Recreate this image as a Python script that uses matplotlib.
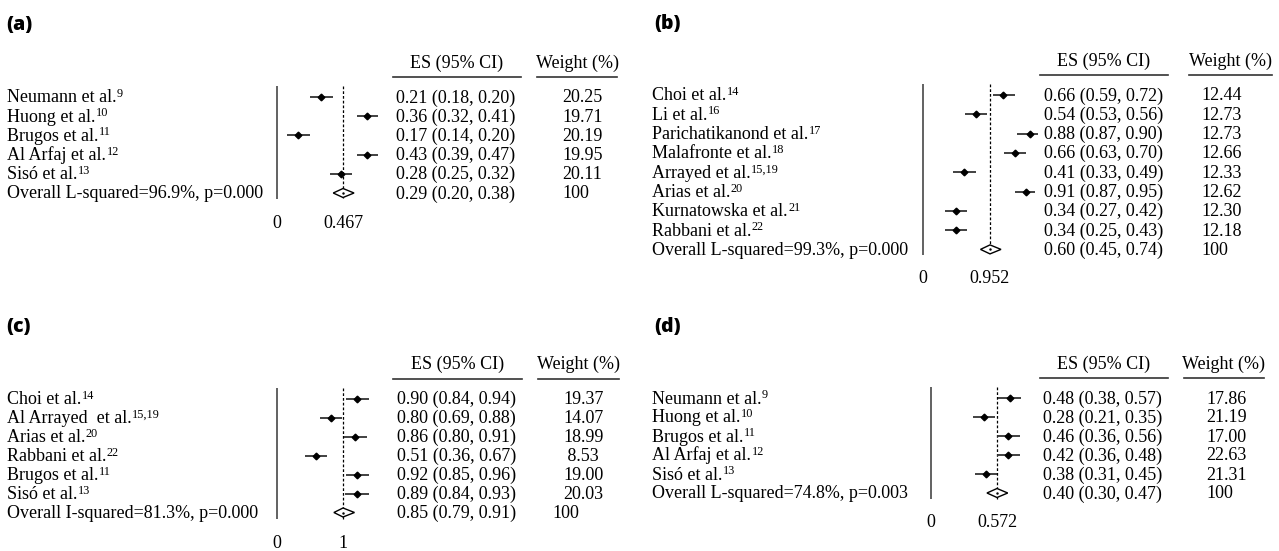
import matplotlib
matplotlib.use("Agg")
import matplotlib.pyplot as plt
from matplotlib.transforms import blended_transform_factory
from matplotlib.patches import Polygon
from matplotlib.lines import Line2D

plt.rcParams['font.family'] = ['Liberation Serif', 'DejaVu Serif']

W, H = 1279, 551
FS = 13

# ---------------- Panel (a) ----------------
a_names = ["Neumann et al.", "Huong et al.", "Brugos et al.", "Al Arfaj et al.", "Sisó et al."]
a_refs = ["9", "10", "11", "12", "13"]
a_es = [0.21, 0.36, 0.17, 0.43, 0.28]
a_lo = [0.18, 0.32, 0.14, 0.39, 0.25]
a_hi = [0.20, 0.41, 0.20, 0.47, 0.32]
a_w = [20.25, 19.71, 20.19, 19.95, 20.11]
a_overall_label = "Overall L-squared=96.9%, p=0.000"
a_overall = (0.29, 0.20, 0.38)
# plotted marker positions (axis units, as drawn)
a_pos = [0.311, 0.640, 0.152, 0.640, 0.456]
a_pos_lo = [0.237, 0.563, 0.074, 0.563, 0.378]
a_pos_hi = [0.393, 0.718, 0.230, 0.718, 0.534]
a_pool = (0.467, 0.398, 0.545)
a_ticks = [0, 0.467]
a_ticklabels = ["0", "0.467"]

# ---------------- Panel (b) ----------------
b_names = ["Choi et al.", "Li et al.", "Parichatikanond et al.", "Malafronte et al.",
           "Arrayed et al.", "Arias et al.", "Kurnatowska et al.", "Rabbani et al."]
b_refs = ["14", "16", "17", "18", "15,19", "20", "21", "22"]
b_es = [0.66, 0.54, 0.88, 0.66, 0.41, 0.91, 0.34, 0.34]
b_lo = [0.59, 0.53, 0.87, 0.63, 0.33, 0.87, 0.27, 0.25]
b_hi = [0.72, 0.56, 0.90, 0.70, 0.49, 0.95, 0.42, 0.43]
b_w = [12.44, 12.73, 12.73, 12.66, 12.33, 12.62, 12.30, 12.18]
b_overall_label = "Overall L-squared=99.3%, p=0.000"
b_overall = (0.60, 0.45, 0.74)
b_pos = [1.136, 0.747, 1.520, 1.303, 0.585, 1.460, 0.469, 0.469]
b_pos_lo = [0.994, 0.597, 1.342, 1.156, 0.430, 1.303, 0.313, 0.313]
b_pos_hi = [1.302, 0.909, 1.634, 1.460, 0.749, 1.591, 0.632, 0.632]
b_pool = (0.952, 0.817, 1.108)
b_ticks = [0, 0.952]
b_ticklabels = ["0", "0.952"]

# ---------------- Panel (c) ----------------
c_names = ["Choi et al.", "Al Arrayed  et al.", "Arias et al.", "Rabbani et al.",
           "Brugos et al.", "Sisó et al."]
c_refs = ["14", "15,19", "20", "22", "11", "13"]
c_es = [0.90, 0.80, 0.86, 0.51, 0.92, 0.89]
c_lo = [0.84, 0.69, 0.80, 0.36, 0.85, 0.84]
c_hi = [0.94, 0.88, 0.91, 0.67, 0.96, 0.93]
c_w = [19.37, 14.07, 18.99, 8.53, 19.00, 20.03]
c_overall_label = "Overall I-squared=81.3%, p=0.000"
c_overall = (0.85, 0.79, 0.91)
c_pos = [1.218, 0.812, 1.188, 0.591, 1.218, 1.206]
c_pos_lo = [1.050, 0.644, 1.018, 0.424, 1.050, 1.030]
c_pos_hi = [1.394, 0.980, 1.364, 0.762, 1.394, 1.394]
c_pool = (1.0, 0.862, 1.174)
c_ticks = [0, 1]
c_ticklabels = ["0", "1"]

# ---------------- Panel (d) ----------------
d_names = ["Neumann et al.", "Huong et al.", "Brugos et al.", "Al Arfaj et al.", "Sisó et al."]
d_refs = ["9", "10", "11", "12", "13"]
d_es = [0.48, 0.28, 0.46, 0.42, 0.38]
d_lo = [0.38, 0.21, 0.36, 0.36, 0.31]
d_hi = [0.57, 0.35, 0.56, 0.48, 0.45]
d_w = [17.86, 21.19, 17.00, 22.63, 21.31]
d_overall_label = "Overall L-squared=74.8%, p=0.003"
d_overall = (0.40, 0.30, 0.47)
d_pos = [0.681, 0.461, 0.670, 0.670, 0.474]
d_pos_lo = [0.583, 0.361, 0.576, 0.576, 0.378]
d_pos_hi = [0.783, 0.555, 0.770, 0.770, 0.572]
d_pool = (0.572, 0.485, 0.665)
d_ticks = [0, 0.572]
d_ticklabels = ["0", "0.572"]

fig = plt.figure(figsize=(W / 100, H / 100), dpi=100)


def fx(px):
    return px / W


def fy(py):
    return 1 - py / H


def panel(letter, letter_x, letter_y, names, refs, es, lo, hi, wts, ov_label, ov,
          pos, pos_lo, pos_hi, pool, ticks, ticklabels, g):
    n = len(names) + 1
    zero_px, tick_px = g['zero'], g['tick']
    ppu = (tick_px - zero_px) / ticks[1]
    step, row0 = g['step'], g['row0']
    left_px, right_px = zero_px - 20, tick_px + 75
    top_px, bot_px = row0 - step, row0 + n * step
    ax = fig.add_axes([fx(left_px), fy(bot_px), (right_px - left_px) / W, (bot_px - top_px) / H])
    ax.set_xlim((left_px - zero_px) / ppu, (right_px - zero_px) / ppu)
    ax.set_ylim(n, -1)
    ax.patch.set_visible(False)
    for s in ax.spines.values():
        s.set_visible(False)
    ax.set_yticks([])
    ax.set_xticks(ticks)
    ax.set_xticklabels(ticklabels, fontsize=FS)
    label_top = row0 + (n - 1) * step + g['tickdy'] - 9
    ax.tick_params(axis='x', length=0, pad=(label_top - bot_px) * 0.72)

    rows = list(range(n - 1))
    ov_row = n - 1
    top_d = -11 / step
    bot_d = ov_row + 6 / step
    ax.vlines(0, top_d, bot_d, color='#555555', lw=1.3)
    ax.vlines(pool[0], top_d, bot_d, color='black', lw=0.9, linestyles=(0, (2.2, 1.6)))
    ax.hlines(rows, pos_lo, pos_hi, color='#333333', lw=1.3)
    ax.plot(pos, rows, 'D', ms=3.4, color='black', mec='black')
    hh = 4.5 / step
    dia = Polygon([(pool[1], ov_row), (pool[0], ov_row - hh), (pool[2], ov_row), (pool[0], ov_row + hh)],
                  closed=True, facecolor='white', edgecolor='black', lw=1.0, zorder=3)
    ax.add_patch(dia)
    ax.plot([pool[0]], [ov_row], marker='.', ms=1.5, color='black', zorder=4)

    tr = blended_transform_factory(fig.transFigure, ax.transData)
    bl = 5.5 / step
    for i, (nm, rf) in enumerate(zip(names, refs)):
        t = ax.text(fx(g['lab']), i + bl, nm, transform=tr,
                    ha='left', va='baseline', fontsize=FS)
        ax.annotate(rf, xy=(1, 0), xycoords=t, xytext=(0.4, 6.8), textcoords='offset points',
                    ha='left', va='baseline', fontsize=8.8)
        ax.text(fx(g['esx']), i + bl, f"{es[i]:.2f} ({lo[i]:.2f}, {hi[i]:.2f})", transform=tr,
                ha='left', va='baseline', fontsize=FS)
        ax.text(fx(g['wx']), i + bl, f"{wts[i]:5.2f}", transform=tr,
                ha='left', va='baseline', fontsize=FS)
    ax.text(fx(g['lab']), ov_row + bl, ov_label, transform=tr, ha='left', va='baseline', fontsize=FS)
    ax.text(fx(g['esx']), ov_row + bl, f"{ov[0]:.2f} ({ov[1]:.2f}, {ov[2]:.2f})", transform=tr,
            ha='left', va='baseline', fontsize=FS)
    ax.text(fx(g['wx'] + g.get('w100', 0)), ov_row + bl, "100", transform=tr, ha='left', va='baseline', fontsize=FS)

    # headers and underlines
    e0, e1 = g['esline']
    w0, w1 = g['wline']
    hy = row0 - 34
    uy = row0 - 20
    fig.text(fx((e0 + e1) / 2), fy(hy), "ES (95% CI)", ha='center', va='center', fontsize=FS)
    fig.text(fx((w0 + w1) / 2), fy(hy), "Weight (%)", ha='center', va='center', fontsize=FS)
    fig.add_artist(Line2D([fx(e0), fx(e1)], [fy(uy), fy(uy)], color='#333333', lw=1.2))
    fig.add_artist(Line2D([fx(w0), fx(w1)], [fy(uy), fy(uy)], color='#333333', lw=1.2))

    fig.text(fx(letter_x), fy(letter_y), letter, ha='left', va='center', fontsize=14,
             family=['Open Sans', 'DejaVu Sans'], weight='heavy')


panel("(a)", 6, 25, a_names, a_refs, a_es, a_lo, a_hi, a_w, a_overall_label, a_overall,
      a_pos, a_pos_lo, a_pos_hi, a_pool, a_ticks, a_ticklabels,
      dict(zero=277, tick=343, step=19.2, row0=97, tickdy=31, lab=7, esx=396, wx=562,
           esline=(393, 521), wline=(537, 617)))
panel("(b)", 654, 24, b_names, b_refs, b_es, b_lo, b_hi, b_w, b_overall_label, b_overall,
      b_pos, b_pos_lo, b_pos_hi, b_pool, b_ticks, b_ticklabels,
      dict(zero=923, tick=990, step=19.3, row0=95, tickdy=30, lab=652, esx=1044, wx=1201,
           esline=(1040, 1168), wline=(1189, 1272)))
panel("(c)", 6, 327, c_names, c_refs, c_es, c_lo, c_hi, c_w, c_overall_label, c_overall,
      c_pos, c_pos_lo, c_pos_hi, c_pool, c_ticks, c_ticklabels,
      dict(zero=277, tick=343, step=19.0, row0=398.5, tickdy=31, lab=7, esx=397, wx=563, w100=-11,
           esline=(393, 522), wline=(538, 619)))
panel("(d)", 654, 327, d_names, d_refs, d_es, d_lo, d_hi, d_w, d_overall_label, d_overall,
      d_pos, d_pos_lo, d_pos_hi, d_pool, d_ticks, d_ticklabels,
      dict(zero=931, tick=997, step=19.0, row0=398, tickdy=30, lab=652, esx=1043, wx=1206,
           esline=(1040, 1168), wline=(1184, 1264)))

fig.savefig("out.png", dpi=100)
